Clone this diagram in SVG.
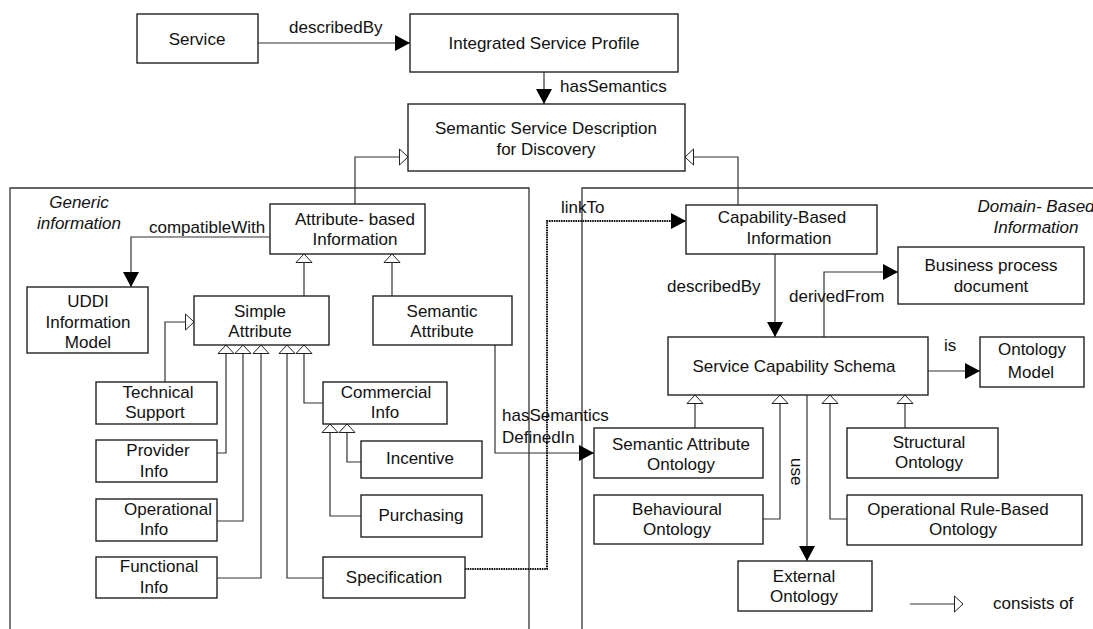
<svg xmlns="http://www.w3.org/2000/svg" width="1093" height="629" viewBox="0 0 1093 629">
  <style>
    text { font-family: "Liberation Sans", Arial, sans-serif; font-size: 17px; fill: #111; }
    .c { text-anchor: middle; }
    .it { font-style: italic; text-anchor: middle; }
    .box { fill: #fff; stroke: #222; stroke-width: 1.4; }
    .frame { fill: none; stroke: #333; stroke-width: 1.3; }
    .ln { fill: none; stroke: #333; stroke-width: 1.2; }
    .to { marker-end: url(#arr); }
    .isa { marker-end: url(#gen); }
    .dot { fill: none; stroke: #111; stroke-width: 2; stroke-dasharray: 1.6 0.8; }
  </style>
  <defs>
    <!-- filled arrowhead for named associations -->
    <marker id="arr" markerUnits="userSpaceOnUse" markerWidth="16" markerHeight="16" refX="15" refY="8" orient="auto" overflow="visible">
      <path d="M0,0 L15,8 L0,16 z" fill="#000"/>
    </marker>
    <!-- hollow triangle for "consists of" -->
    <marker id="gen" markerUnits="userSpaceOnUse" markerWidth="10" markerHeight="18" refX="9" refY="8.5" orient="auto" overflow="visible">
      <path d="M0.5,0.5 L9,8.5 L0.5,16.5 z" fill="#fff" stroke="#222" stroke-width="1"/>
    </marker>
  </defs>

  <rect width="1093" height="629" fill="#fff"/>

  <!-- region frames -->
  <g id="frames">
    <path class="frame" d="M10,629 V188 H529 V629"/>
    <path class="frame" d="M582,629 V188 H1095"/>
    <text class="it" x="79" y="208">Generic</text>
    <text class="it" x="79" y="229">information</text>
    <text class="it" x="1036" y="212">Domain- Based</text>
    <text class="it" x="1036" y="233">Information</text>
  </g>

  <!-- connectors -->
  <g id="connectors">
    <path class="ln to" d="M258,43 H410" stroke-width="2"/>
    <path class="ln to" d="M544,72 V104"/>
    <path class="ln isa" d="M355,204 V157 H408"/>
    <path class="ln isa" d="M738,205 V157 H685"/>
    <path class="ln to" d="M270,237 H131 V287"/>
    <path class="ln isa" d="M304,296 V254"/>
    <path class="ln isa" d="M392,296 V254"/>
    <path class="ln isa" d="M165,382 V322 H194"/>
    <path class="ln isa" d="M217,453 H226 V345"/>
    <path class="ln isa" d="M217,521 H243 V345"/>
    <path class="ln isa" d="M217,578 H261 V345"/>
    <path class="ln isa" d="M323,578 H287 V345"/>
    <path class="ln isa" d="M323,403 H304 V345"/>
    <path class="ln isa" d="M361,462 H347 V424"/>
    <path class="ln isa" d="M361,516 H330 V424"/>
    <path class="ln to" d="M495,345 V453 H594"/>
    <path class="dot to" d="M465,569 H547 V221 H686"/>
    <path class="ln to" d="M775,254 V337"/>
    <path class="ln to" d="M824,337 V272 H898"/>
    <path class="ln to" d="M928,371 H980"/>
    <path class="ln to" d="M807,395 V561"/>
    <path class="ln isa" d="M695,428 V395"/>
    <path class="ln isa" d="M763,519 H780 V395"/>
    <path class="ln isa" d="M847,519 H830 V395"/>
    <path class="ln isa" d="M905,428 V395"/>
    <path class="ln isa" d="M910,604 H963"/>
    <text x="289" y="33">describedBy</text>
    <text x="560" y="92">hasSemantics</text>
    <text x="149" y="233">compatibleWith</text>
    <text x="502" y="421">hasSemantics</text>
    <text x="502" y="443">DefinedIn</text>
    <text x="561" y="213">linkTo</text>
    <text x="667" y="292">describedBy</text>
    <text x="789" y="302">derivedFrom</text>
    <text x="944" y="351">is</text>
    <text x="791" y="458" transform="rotate(90 791 458)">use</text>
    <text x="993" y="609">consists of</text>
  </g>

  <g id="service">
    <rect class="box" x="137" y="14" width="121" height="49"/>
    <text class="c" x="197" y="45">Service</text>
  </g>
  <g id="integrated-service-profile">
    <rect class="box" x="410" y="14" width="268" height="58"/>
    <text class="c" x="544" y="49">Integrated Service Profile</text>
  </g>
  <g id="semantic-service-description">
    <rect class="box" x="408" y="104" width="277" height="67"/>
    <text class="c" x="546" y="134">Semantic Service Description</text>
    <text class="c" x="546" y="155">for Discovery</text>
  </g>
  <g id="attribute-based-information">
    <rect class="box" x="270" y="204" width="155" height="50"/>
    <text class="c" x="355" y="225">Attribute- based</text>
    <text class="c" x="355" y="245">Information</text>
  </g>
  <g id="uddi-information-model">
    <rect class="box" x="27" y="287" width="121" height="66"/>
    <text class="c" x="88" y="307">UDDI</text>
    <text class="c" x="88" y="328">Information</text>
    <text class="c" x="88" y="348">Model</text>
  </g>
  <g id="simple-attribute">
    <rect class="box" x="194" y="296" width="135" height="49"/>
    <text class="c" x="260" y="317">Simple</text>
    <text class="c" x="260" y="337">Attribute</text>
  </g>
  <g id="semantic-attribute">
    <rect class="box" x="373" y="296" width="139" height="49"/>
    <text class="c" x="442" y="317">Semantic</text>
    <text class="c" x="442" y="337">Attribute</text>
  </g>
  <g id="technical-support">
    <rect class="box" x="96" y="382" width="121" height="42"/>
    <text class="c" x="158" y="398">Technical</text>
    <text class="c" x="155" y="418">Support</text>
  </g>
  <g id="provider-info">
    <rect class="box" x="96" y="440" width="121" height="42"/>
    <text class="c" x="158" y="456">Provider</text>
    <text class="c" x="154" y="477">Info</text>
  </g>
  <g id="operational-info">
    <rect class="box" x="96" y="499" width="121" height="42"/>
    <text class="c" x="168" y="515">Operational</text>
    <text class="c" x="154" y="535">Info</text>
  </g>
  <g id="functional-info">
    <rect class="box" x="96" y="557" width="121" height="41"/>
    <text class="c" x="159" y="572">Functional</text>
    <text class="c" x="154" y="593">Info</text>
  </g>
  <g id="commercial-info">
    <rect class="box" x="323" y="382" width="124" height="42"/>
    <text class="c" x="386" y="398">Commercial</text>
    <text class="c" x="385" y="418">Info</text>
  </g>
  <g id="incentive">
    <rect class="box" x="361" y="441" width="121" height="37"/>
    <text class="c" x="420" y="464">Incentive</text>
  </g>
  <g id="purchasing">
    <rect class="box" x="361" y="495" width="121" height="42"/>
    <text class="c" x="421" y="521">Purchasing</text>
  </g>
  <g id="specification">
    <rect class="box" x="323" y="557" width="142" height="41"/>
    <text class="c" x="394" y="583">Specification</text>
  </g>
  <g id="capability-based-information">
    <rect class="box" x="686" y="205" width="191" height="49"/>
    <text class="c" x="782" y="223">Capability-Based</text>
    <text class="c" x="789" y="244">Information</text>
  </g>
  <g id="business-process-document">
    <rect class="box" x="898" y="247" width="186" height="57"/>
    <text class="c" x="991" y="271">Business process</text>
    <text class="c" x="991" y="292">document</text>
  </g>
  <g id="service-capability-schema">
    <rect class="box" x="668" y="337" width="260" height="58"/>
    <text class="c" x="794" y="372">Service Capability Schema</text>
  </g>
  <g id="ontology-model">
    <rect class="box" x="980" y="337" width="104" height="50"/>
    <text class="c" x="1032" y="355">Ontology</text>
    <text class="c" x="1031" y="378">Model</text>
  </g>
  <g id="semantic-attribute-ontology">
    <rect class="box" x="594" y="428" width="169" height="50"/>
    <text class="c" x="681" y="450">Semantic Attribute</text>
    <text class="c" x="681" y="470">Ontology</text>
  </g>
  <g id="structural-ontology">
    <rect class="box" x="847" y="428" width="151" height="50"/>
    <text class="c" x="929" y="448">Structural</text>
    <text class="c" x="929" y="468">Ontology</text>
  </g>
  <g id="behavioural-ontology">
    <rect class="box" x="594" y="495" width="169" height="49"/>
    <text class="c" x="677" y="515">Behavioural</text>
    <text class="c" x="677" y="535">Ontology</text>
  </g>
  <g id="operational-rule-based-ontology">
    <rect class="box" x="847" y="495" width="235" height="50"/>
    <text class="c" x="958" y="515">Operational Rule-Based</text>
    <text class="c" x="963" y="535">Ontology</text>
  </g>
  <g id="external-ontology">
    <rect class="box" x="738" y="561" width="134" height="50"/>
    <text class="c" x="804" y="582">External</text>
    <text class="c" x="804" y="602">Ontology</text>
  </g>
</svg>
